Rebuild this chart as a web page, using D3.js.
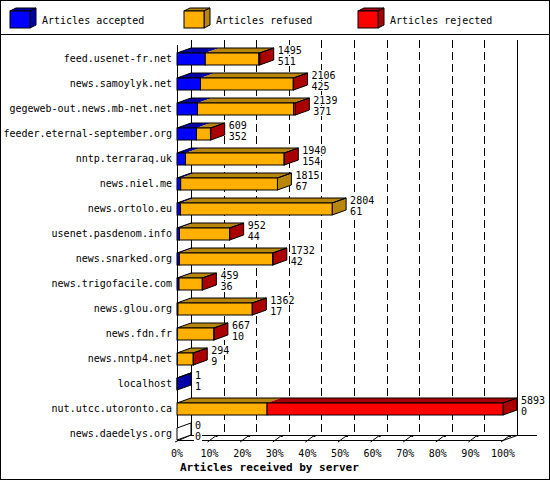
<!DOCTYPE html>
<html>
<head>
<meta charset="utf-8">
<script src="https://cdn.jsdelivr.net/npm/d3@7"></script>
<style>
  html, body { margin: 0; padding: 0; background: #fff; }
  svg { display: block; }
  text { font-family: "DejaVu Sans Mono", monospace; font-size: 10px; fill: #000; }
</style>
</head>
<body>
<svg id="chart" width="550" height="480"></svg>
<script>
const hosts = [
  "feed.usenet-fr.net", "news.samoylyk.net", "gegeweb-out.news.mb-net.net",
  "feeder.eternal-september.org", "nntp.terraraq.uk", "news.niel.me",
  "news.ortolo.eu", "usenet.pasdenom.info", "news.snarked.org",
  "news.trigofacile.com", "news.glou.org", "news.fdn.fr", "news.nntp4.net",
  "localhost", "nut.utcc.utoronto.ca", "news.daedelys.org"
];
const totals   = [1495, 2106, 2139, 609, 1940, 1815, 2804, 952, 1732, 459, 1362, 667, 294, 1, 5893, 0];
const accepted = [511, 425, 371, 352, 154, 67, 61, 44, 42, 36, 17, 10, 9, 1, 0, 0];
const refused  = [969, 1677, 1738, 253, 1782, 1748, 2743, 905, 1687, 421, 1343, 656, 284, 0, 1628, 0];
const rejected = [15, 4, 30, 4, 4, 0, 0, 3, 3, 2, 2, 1, 1, 0, 4265, 0];
const seriesNames = ["Articles accepted", "Articles refused", "Articles rejected"];
const tickLabels = ["0%", "10%", "20%", "30%", "40%", "50%", "60%", "70%", "80%", "90%", "100%"];
const axisTitle = "Articles received by server";

const frontColors = ["#0000ff", "#ffb000", "#ff0000"];
const darkColors  = ["#0000aa", "#b8860b", "#aa0000"];

const svg = d3.select("#chart");
const W = 550, H = 480;
const DX = 14, DY = -5;
const maxTotal = d3.max(totals);

const x = d3.scaleLinear().domain([0, 100]).range([177, 503]);
const y = d3.scaleBand().domain(hosts).range([46, 446]).paddingInner(0);
const pct = v => v / maxTotal * 100;
const barH = 12;

// frame
svg.append("rect").attr("x", 0.5).attr("y", 0.5).attr("width", W - 1).attr("height", H - 1)
  .attr("fill", "#fff").attr("stroke", "#000").attr("shape-rendering", "crispEdges");
svg.append("line").attr("x1", 0).attr("x2", W).attr("y1", 34.5).attr("y2", 34.5)
  .attr("stroke", "#000").attr("shape-rendering", "crispEdges");

// legend
const legX = [10, 184, 358];
seriesNames.forEach((name, i) => {
  const g = svg.append("g");
  const x0 = legX[i], y0 = 11, w = 20, h = 17, dx = 6, dy = -3;
  g.append("polygon").attr("points", [[x0, y0], [x0 + w, y0], [x0 + w + dx, y0 + dy], [x0 + dx, y0 + dy]].join(" "))
    .attr("fill", darkColors[i]).attr("stroke", "#000");
  g.append("polygon").attr("points", [[x0 + w, y0], [x0 + w + dx, y0 + dy], [x0 + w + dx, y0 + h + dy], [x0 + w, y0 + h]].join(" "))
    .attr("fill", darkColors[i]).attr("stroke", "#000");
  g.append("rect").attr("x", x0).attr("y", y0).attr("width", w).attr("height", h)
    .attr("fill", frontColors[i]).attr("stroke", "#000");
  g.append("text").attr("x", x0 + 32).attr("y", 23.5).text(name);
});

// back plane grid
const backX = v => x(v) + DX;
const topY = 40, floorBack = 435, floorFront = 440;
const gridVals = d3.range(0, 101, 10);
svg.append("g").selectAll("line").data(gridVals).join("line")
  .attr("x1", d => Math.round(backX(d)) + 0.5).attr("x2", d => Math.round(backX(d)) + 0.5)
  .attr("y1", topY).attr("y2", floorBack)
  .attr("stroke", "#000")
  .attr("stroke-dasharray", d => (d === 0 || d === 100) ? null : "8,4")
  .attr("shape-rendering", "crispEdges");

// back floor line
svg.append("line").attr("x1", backX(0)).attr("x2", 537).attr("y1", floorBack + 0.5).attr("y2", floorBack + 0.5)
  .attr("stroke", "#000").attr("shape-rendering", "crispEdges");
// front floor line
svg.append("line").attr("x1", x(0)).attr("x2", x(100)).attr("y1", floorFront + 0.5).attr("y2", floorFront + 0.5)
  .attr("stroke", "#000").attr("shape-rendering", "crispEdges");
// front vertical axis
svg.append("line").attr("x1", x(0) + 0.5).attr("x2", x(0) + 0.5).attr("y1", topY + 5).attr("y2", floorFront + 1)
  .attr("stroke", "#000").attr("shape-rendering", "crispEdges");
// left diagonal at floor
svg.append("line").attr("x1", x(0) - 2).attr("y1", floorFront + 2).attr("x2", backX(0)).attr("y2", floorBack)
  .attr("stroke", "#000");
// right diagonal at floor
svg.append("line").attr("x1", x(100)).attr("y1", floorFront + 0.5).attr("x2", backX(100)).attr("y2", floorBack + 0.5)
  .attr("stroke", "#000");

// ticks
const tickG = svg.append("g");
gridVals.slice(1).forEach(v => {
  const xf = x(v);
  tickG.append("line").attr("x1", xf - 2).attr("y1", floorFront + 2).attr("x2", xf + 6).attr("y2", floorBack + 1)
    .attr("stroke", "#000");
  tickG.append("rect").attr("x", xf + 6).attr("y", floorBack).attr("width", 2).attr("height", 2).attr("fill", "#000");
});
tickG.selectAll("text").data(gridVals).join("text")
  .attr("x", d => x(d)).attr("y", 456.5).attr("text-anchor", "middle")
  .text((d, i) => tickLabels[i]);

svg.append("text").attr("x", 180).attr("y", 471)
  .style("font-weight", "bold").style("font-size", "11px").text(axisTitle);

// host labels
svg.append("g").selectAll("text").data(hosts).join("text")
  .attr("x", 172).attr("y", d => y(d) + 12.5 + 3.5).attr("text-anchor", "end").text(d => d);

// bars
const barsG = svg.append("g");
const labelsG = svg.append("g");
hosts.forEach((h, i) => {
  const vals = [accepted[i], refused[i], rejected[i]];
  const top = y(h) + 7;
  const bot = top + barH;
  let cum = 0;
  const segs = [];
  vals.forEach((v, k) => {
    if (v > 0) {
      segs.push({ k, x0: x(pct(cum)), x1: x(pct(cum + v)) });
    }
    cum += v;
  });
  const g = barsG.append("g");
  const xs = x(0), xe = x(pct(totals[i]));
  if (segs.length === 0) {
    g.append("polygon").attr("points", [[xs, top], [xs + DX, top + DY], [xs + DX, bot + DY], [xs, bot]].join(" "))
      .attr("fill", "#fff").attr("stroke", "#000");
  } else {
    segs.forEach(s => {
      g.append("polygon").attr("points", [[s.x0, top], [s.x1, top], [s.x1 + DX, top + DY], [s.x0 + DX, top + DY]].join(" "))
        .attr("fill", darkColors[s.k]);
    });
    const last = segs[segs.length - 1];
    g.append("polygon").attr("points", [[xe, top], [xe + DX, top + DY], [xe + DX, bot + DY], [xe, bot]].join(" "))
      .attr("fill", darkColors[last.k]).attr("stroke", "#000");
    g.append("polygon").attr("points", [[xs, top], [xe, top], [xe + DX, top + DY], [xs + DX, top + DY]].join(" "))
      .attr("fill", "none").attr("stroke", "#000");
    segs.forEach(s => {
      g.append("rect").attr("x", s.x0).attr("y", top).attr("width", Math.max(0, s.x1 - s.x0)).attr("height", barH)
        .attr("fill", frontColors[s.k]).attr("stroke", "#000");
    });
  }
  // value labels with white background
  const lx = xe + DX + 4;
  [[totals[i], top - 3], [accepted[i], top + 8]].forEach(([val, cy]) => {
    const str = String(val);
    labelsG.append("rect").attr("x", Math.round(lx) - 1).attr("y", Math.round(cy) - 5)
      .attr("width", str.length * 6 + 2).attr("height", 10).attr("fill", "#fff");
    labelsG.append("text").attr("x", lx).attr("y", cy + 3.5).text(str);
  });
});
</script>
</body>
</html>
